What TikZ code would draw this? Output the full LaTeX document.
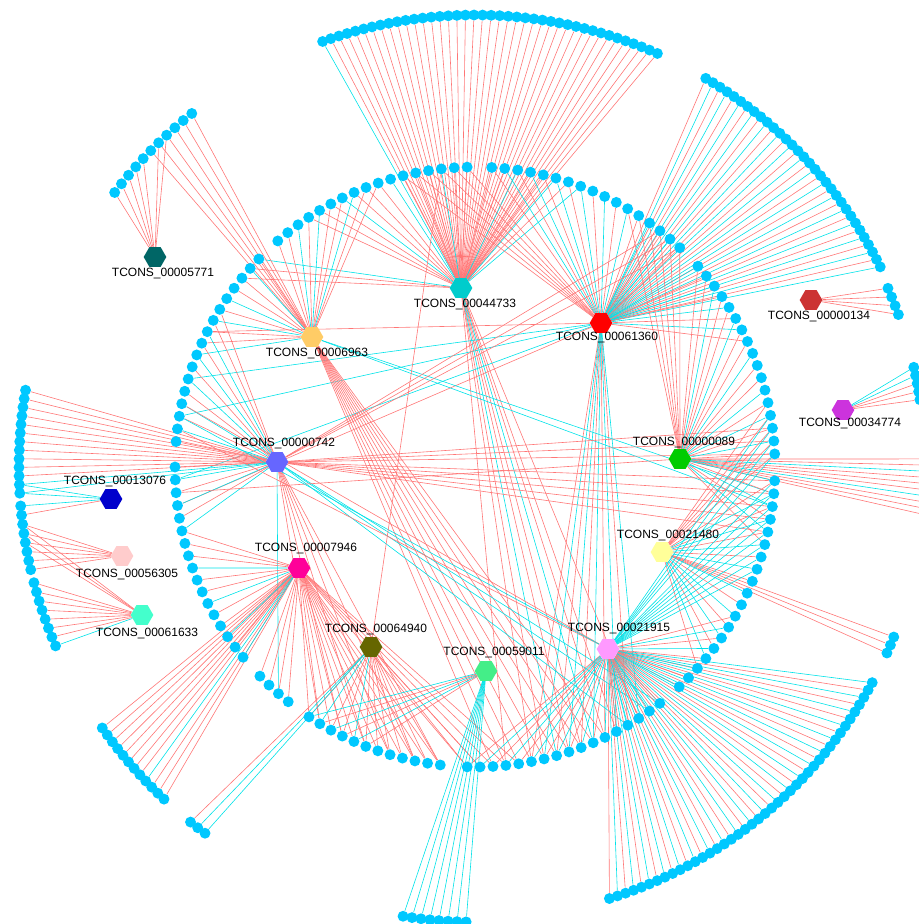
\documentclass[tikz,border=0pt]{standalone}
\usepackage{fontspec}
\setmainfont{Liberation Sans}
\usetikzlibrary{shapes.geometric}
\pgfdeclarelayer{bg}
\pgfsetlayers{bg,main}
\definecolor{dotc}{RGB}{0,200,255}
\definecolor{rc}{RGB}{255,118,118}
\definecolor{cc}{RGB}{0,226,232}
\definecolor{c5771}{RGB}{0,102,102}
\definecolor{c6963}{RGB}{255,204,102}
\definecolor{c44733}{RGB}{0,204,204}
\definecolor{c61360}{RGB}{255,0,0}
\definecolor{c134}{RGB}{204,51,51}
\definecolor{c34774}{RGB}{204,51,221}
\definecolor{c89}{RGB}{0,204,0}
\definecolor{c742}{RGB}{102,102,255}
\definecolor{c13076}{RGB}{0,0,204}
\definecolor{c56305}{RGB}{255,204,204}
\definecolor{c61633}{RGB}{68,255,204}
\definecolor{c7946}{RGB}{255,0,153}
\definecolor{c64940}{RGB}{102,102,0}
\definecolor{c59011}{RGB}{68,238,136}
\definecolor{c21480}{RGB}{255,255,153}
\definecolor{c21915}{RGB}{255,153,255}
\tikzset{
  bdot/.style={circle,fill=dotc,inner sep=0pt,minimum size=8.2pt},
  hub/.style={regular polygon,regular polygon sides=6,inner sep=0pt,minimum size=17pt},
  lbl/.style={font=\fontsize{9}{10}\selectfont,inner sep=0pt},
  redge/.style={draw=rc,line width=0.45pt},
  cedge/.style={draw=cc,line width=0.45pt}
}
\newcommand\mkarc[5]{\foreach \k in {1,...,#3}{\pgfmathsetmacro\ang{#2+(\k-1)*(#4)}\node[bdot] (#1\k) at ({475+(#5)*cos(\ang)},{467-(#5)*sin(\ang)}) {};}}
\newcommand\er[3]{\foreach \k in {#3}{\draw[redge] (#1) -- (#2\k);}}
\newcommand\ec[3]{\foreach \k in {#3}{\draw[cedge] (#1) -- (#2\k);}}
\begin{document}
\begin{tikzpicture}[x=0.75pt,y=-0.75pt]
\useasboundingbox (0,0) rectangle (918,924);
% main circle groups
\mkarc{ma}{86.8}{17}{-2.49}{300}
\mkarc{mb}{91.5}{17}{2.475}{300}
\mkarc{mc}{136.1}{17}{2.44}{300}
\mkarc{md}{180}{17}{2.46}{300}
\mkarc{me}{224.2}{4}{2.43}{300}
\mkarc{mf}{236.4}{12}{2.45}{300}
\mkarc{mg}{268.5}{17}{2.47}{300}
\mkarc{mh}{312.9}{19}{2.47}{300}
\mkarc{mi}{2.5}{17}{2.47}{300}
% outer groups
\mkarc{ot}{109.7}{41}{-1.0875}{452}
\mkarc{or}{59.3}{32}{-1.065}{452}
\mkarc{ok}{23.4}{4}{-1.2}{450}
\mkarc{op}{12.8}{5}{-1.05}{450}
\mkarc{oq}{1}{10}{-0.8}{462}
\mkarc{of}{-22.1}{3}{-1.1}{452}
\mkarc{ob}{-28.5}{42}{-1.078}{452}
\mkarc{og}{-99.1}{8}{1.14}{455}
\mkarc{oh}{-128.7}{3}{1.15}{455}
\mkarc{oi}{-145}{12}{1.08}{455}
\mkarc{oja}{170.3}{13}{1.083}{456}
\mkarc{ojb}{184.9}{8}{1.16}{456}
\mkarc{ojc}{194.7}{8}{1.2}{456}
\mkarc{ofv}{142.7}{11}{-1.4}{453}
% hubs
\node[hub,fill=c5771] (H5771) at (155,257) {};
\node[hub,fill=c6963] (H6963) at (312,337) {};
\node[hub,fill=c44733] (H44733) at (461,288) {};
\node[hub,fill=c61360] (H61360) at (601,323) {};
\node[hub,fill=c134] (H134) at (811,300) {};
\node[hub,fill=c34774] (H34774) at (843,410) {};
\node[hub,fill=c89] (H89) at (680,459) {};
\node[hub,fill=c742] (H742) at (277,462) {};
\node[hub,fill=c13076] (H13076) at (111,499) {};
\node[hub,fill=c56305] (H56305) at (122,556) {};
\node[hub,fill=c61633] (H61633) at (142,615) {};
\node[hub,fill=c7946] (H7946) at (299,568) {};
\node[hub,fill=c64940] (H64940) at (371,647) {};
\node[hub,fill=c59011] (H59011) at (486,671) {};
\node[hub,fill=c21480] (H21480) at (662,552) {};
\node[hub,fill=c21915] (H21915) at (608,649) {};
% labels
\node[lbl] (L5771) at (163,274) {TCONS\_00005771};
\node[lbl] (L6963) at (317,353) {TCONS\_00006963};
\node[lbl] (L44733) at (465,304) {TCONS\_00044733};
\node[lbl] (L61360) at (607,337) {TCONS\_00061360};
\node[lbl] (L134) at (819,317) {TCONS\_00000134};
\node[lbl] (L34774) at (850,423) {TCONS\_00034774};
\node[lbl] (L89) at (684,442) {TCONS\_00000089};
\node[lbl] (L742) at (284,443) {TCONS\_00000742};
\node[lbl] (L13076) at (115,481) {TCONS\_00013076};
\node[lbl] (L56305) at (127,574) {TCONS\_00056305};
\node[lbl] (L61633) at (147,633) {TCONS\_00061633};
\node[lbl] (L7946) at (306,548) {TCONS\_00007946};
\node[lbl] (L64940) at (376,629) {TCONS\_00064940};
\node[lbl] (L59011) at (494,652) {TCONS\_00059011};
\node[lbl] (L21480) at (668,535) {TCONS\_00021480};
\node[lbl] (L21915) at (619,628) {TCONS\_00021915};
\begin{pgfonlayer}{bg}
% 44733
\er{H44733}{ot}{2,...,41}\ec{H44733}{ot}{1}
\er{H44733}{mb}{1,2,4,5,6,8,9,10,12,13,14}\ec{H44733}{mb}{3,7,11}
\er{H44733}{ma}{1,2,4,5,7}\ec{H44733}{ma}{3,6,8}
\ec{H44733}{mc}{1}\er{H44733}{mc}{2,3}
\er{H44733}{mg}{4,6,7,9,10,12,13,15}\ec{H44733}{mg}{8,11}
% 61360
\er{H61360}{or}{1,3,...,31}\ec{H61360}{or}{2,4,...,32}
\er{H61360}{ma}{1,3,...,17}\ec{H61360}{ma}{2,4,...,16}
\er{H61360}{mi}{10,12,14,16}\ec{H61360}{mi}{11,13,15,17}
\er{H61360}{mb}{1,2,3,4,5,6}
\er{H61360}{mg}{6,8,10,12,14}\ec{H61360}{mg}{7,9,11,13,15}
\ec{H61360}{mc}{12,15}\er{H61360}{mc}{8}\ec{H61360}{md}{2}\er{H61360}{md}{4}
% 6963
\er{H6963}{ofv}{6,...,11}
\er{H6963}{mb}{8,9,11,12,14,16,17}\ec{H6963}{mb}{10,13,15}
\er{H6963}{mc}{1,3,4,6,8,9}\ec{H6963}{mc}{2,5,7,10}
\er{H6963}{mg}{3,...,12}
\ec{H6963}{mh}{17,18}
% 5771
\er{H5771}{ofv}{1,2,3,4,5,7,8}
% 742
\er{H742}{oja}{1,...,11}\ec{H742}{oja}{12,13}
\er{H742}{mc}{6,7,9,11,13,15,17}\ec{H742}{mc}{8,10,12,14,16}
\er{H742}{md}{1,3,5}\ec{H742}{md}{2,4,6}
\ec{H742}{me}{3}
\er{H742}{mf}{2,4,6,8,10,12}
\er{H742}{mh}{15,...,19}\er{H742}{mi}{1,2,3}
\ec{H742}{mg}{14,16,17}
\er{H742}{ma}{15,16,17}
% small left hubs
\ec{H13076}{oja}{12,13}\ec{H13076}{ojb}{1}\er{H13076}{ojb}{2}
\er{H56305}{ojb}{3,...,8}
\er{H61633}{ojc}{1,...,7}\ec{H61633}{ojc}{8}\er{H61633}{ojb}{3,4,5}
% right small hubs
\er{H134}{ok}{1,2,3,4}
\ec{H34774}{op}{1,2}\er{H34774}{op}{3,4,5}
% 89
\er{H89}{mi}{1,3,5,7,8,10,11,13,14,16,17}\ec{H89}{mi}{2,4,6,9,12,15}
\er{H89}{oq}{1,2,4,5,6,8,9,10}\ec{H89}{oq}{3,7}
\er{H89}{mh}{14,16,18}\ec{H89}{mh}{15,17,19}
\er{H89}{md}{3}
\er{H89}{ma}{12,...,17}
% 21480
\er{H21480}{mh}{3,5,...,19}\ec{H21480}{mh}{4,6,...,18}
\er{H21480}{of}{1,2,3}
\er{H21480}{mi}{1,...,5}
% 21915
\ec{H21915}{ob}{1,3,...,41}\er{H21915}{ob}{2,4,...,42}
\er{H21915}{mg}{1,3,...,17}\ec{H21915}{mg}{2,4,...,16}
\ec{H21915}{mh}{1,3,5,7,12,13,14,15,16,17,18,19}\er{H21915}{mh}{2,4,6,8}
\ec{H21915}{mi}{1,2,3,4}
\er{H21915}{mc}{14,16}\ec{H21915}{mc}{15}
% 7946
\er{H7946}{oi}{1,2,3,4,5,6,7,8,10,11,12}\ec{H7946}{oi}{9}
\er{H7946}{md}{6,7,8,10,11,13,14,16}\ec{H7946}{md}{9,12,15,17}
\er{H7946}{me}{1,2,3,4}
\er{H7946}{mf}{1,...,12}
\er{H7946}{mg}{1,...,5}
% 64940
\er{H64940}{mf}{1,3,4,6,7,8,9,10,11,12}\ec{H64940}{mf}{2,5}
\er{H64940}{oh}{1}\ec{H64940}{oh}{2,3}
\er{H64940}{mg}{1,2}
\er{H64940}{mb}{3}
% 59011
\ec{H59011}{og}{1,...,8}
\ec{H59011}{mf}{1,3,5}\er{H59011}{mf}{2,4,6}
\end{pgfonlayer}
\end{tikzpicture}
\end{document}
